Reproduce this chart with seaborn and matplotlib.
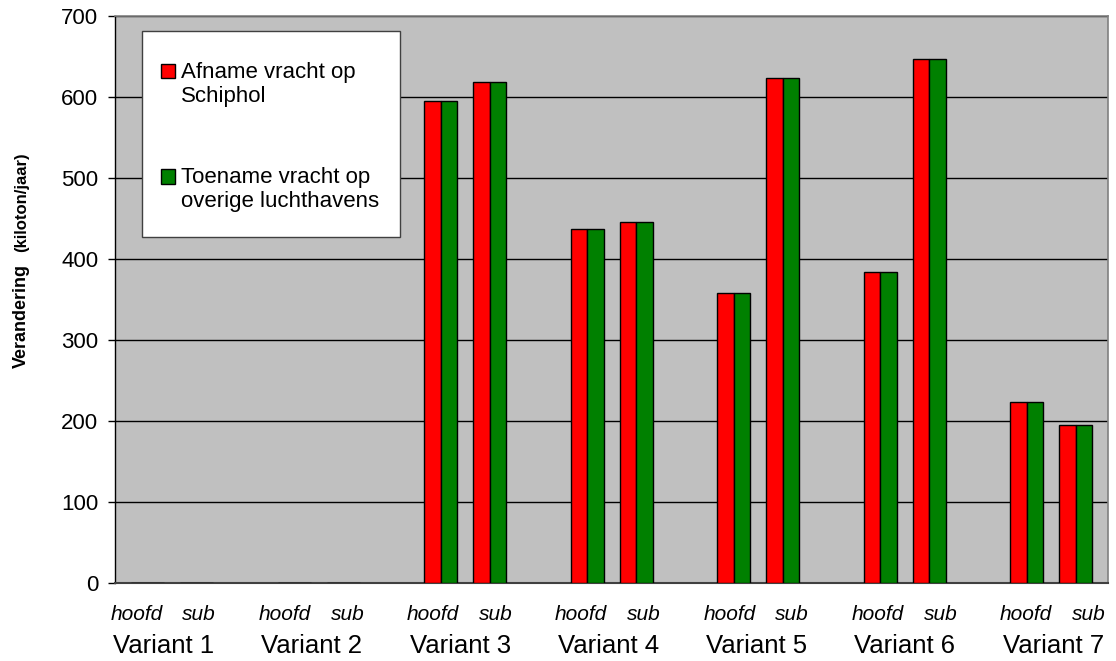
import matplotlib
matplotlib.use("Agg")
import matplotlib.pyplot as plt
import matplotlib.transforms as mtransforms
from matplotlib.patches import Rectangle
import seaborn as sns
import pandas as pd

# Freight shift per variant (kiloton/jaar), main (hoofd) and sub variant
variants = ["Variant 1", "Variant 2", "Variant 3", "Variant 4",
            "Variant 5", "Variant 6", "Variant 7"]
subtypes = ["hoofd", "sub"]
afname_hoofd = [0, 0, 595, 437, 358, 384, 224]
afname_sub = [0, 0, 618, 446, 624, 647, 195]
toename_hoofd = [0, 0, 595, 437, 358, 384, 224]
toename_sub = [0, 0, 618, 446, 624, 647, 195]
series = ["Afname vracht op\nSchiphol", "Toename vracht op\noverige luchthavens"]
colors = ["#FF0000", "#008000"]
yticks = [0, 100, 200, 300, 400, 500, 600, 700]

# Long-form table
rows = []
for i, v in enumerate(variants):
    for sub, a, t in ((subtypes[0], afname_hoofd[i], toename_hoofd[i]),
                      (subtypes[1], afname_sub[i], toename_sub[i])):
        key = f"{v} {sub}"
        rows.append({"cat": key, "serie": series[0], "waarde": a})
        rows.append({"cat": key, "serie": series[1], "waarde": t})
df = pd.DataFrame(rows)

# Category order with an empty spacer slot between variants
order = []
for i, v in enumerate(variants):
    order += [f"{v} {subtypes[0]}", f"{v} {subtypes[1]}"]
    if i < len(variants) - 1:
        order.append(" " * (i + 1))

sns.set_theme(style="white")
plt.rcParams["font.family"] = ["Liberation Sans", "DejaVu Sans"]
plt.rcParams["text.color"] = "black"
plt.rcParams["xtick.color"] = "black"
plt.rcParams["ytick.color"] = "black"
plt.rcParams["axes.labelcolor"] = "black"

fig = plt.figure(figsize=(11.16, 6.61), dpi=100)
ax = fig.add_axes([0.1030, 0.1180, 0.8898, 0.8578])
ax.set_facecolor("#C0C0C0")

sns.barplot(data=df, x="cat", y="waarde", hue="serie", order=order,
            hue_order=series, palette=colors, width=0.676, saturation=1,
            edgecolor="black", linewidth=1.0, ax=ax, zorder=3)

ax.set_ylim(0, 700)
ax.set_xlim(-0.676, 19.66)
ax.set_yticks(yticks)
ax.set_yticklabels([str(t) for t in yticks], fontsize=16, color="black")
ax.yaxis.grid(True, color="black", linewidth=1.0)
ax.set_axisbelow(True)
ax.tick_params(axis="y", direction="out", length=5, width=1, color="black",
               pad=7, left=True)
ax.set_xticks([])
ax.set_xlabel("")
ax.set_ylabel("")

for side in ("top", "right"):
    ax.spines[side].set_color("#808080")
    ax.spines[side].set_linewidth(1.2)
ax.spines["left"].set_color("black")
ax.spines["left"].set_linewidth(1.0)
ax.spines["bottom"].set_color("#404040")
ax.spines["bottom"].set_linewidth(1.5)

# Two-level category labels under the axis (label row is slightly wider
# than the bar row)
trans = mtransforms.blended_transform_factory(ax.transData, ax.transAxes)
stretch = 1.012
for i, v in enumerate(variants):
    ph = order.index(f"{v} {subtypes[0]}")
    ps = order.index(f"{v} {subtypes[1]}")
    ax.text(ph * stretch - 0.235, -0.055, subtypes[0], transform=trans,
            ha="center", va="center", fontsize=15, style="italic",
            color="black")
    ax.text(ps * stretch + 0.04, -0.055, subtypes[1], transform=trans,
            ha="center", va="center", fontsize=15, style="italic",
            color="black")
    ax.text((ph + ps) / 2 * stretch - 0.185, -0.111, v, transform=trans,
            ha="center", va="center", fontsize=18.5, color="black")

# Y axis title in two sizes
fig.text(21 / 1116, 1 - 316 / 661, "Verandering", rotation=90, ha="center",
         va="center", fontsize=13, fontweight="bold", color="black")
fig.text(22 / 1116, 1 - 202 / 661, "(kiloton/jaar)", rotation=90,
         ha="center", va="center", fontsize=12, fontweight="bold",
         color="black")

# Legend box: white frame with the entries inside
ax.add_patch(Rectangle((0.0272, 0.611), 0.2598, 0.363, transform=ax.transAxes,
                       facecolor="white", edgecolor="#404040", linewidth=1.0,
                       zorder=5))
leg = ax.legend(loc="upper left", bbox_to_anchor=(0.0463, 0.919),
                fontsize=16, frameon=False, borderpad=0,
                labelspacing=2.7, handlelength=0.62, handleheight=0.62,
                handletextpad=0.3, borderaxespad=0)
for t in leg.get_texts():
    t.set_color("black")
# Align each swatch with the first line of its two-line label
for h in leg.legend_handles:
    h.set_y(h.get_y() + 9.7)
leg.set_zorder(6)

fig.savefig("out.png", dpi=100)
